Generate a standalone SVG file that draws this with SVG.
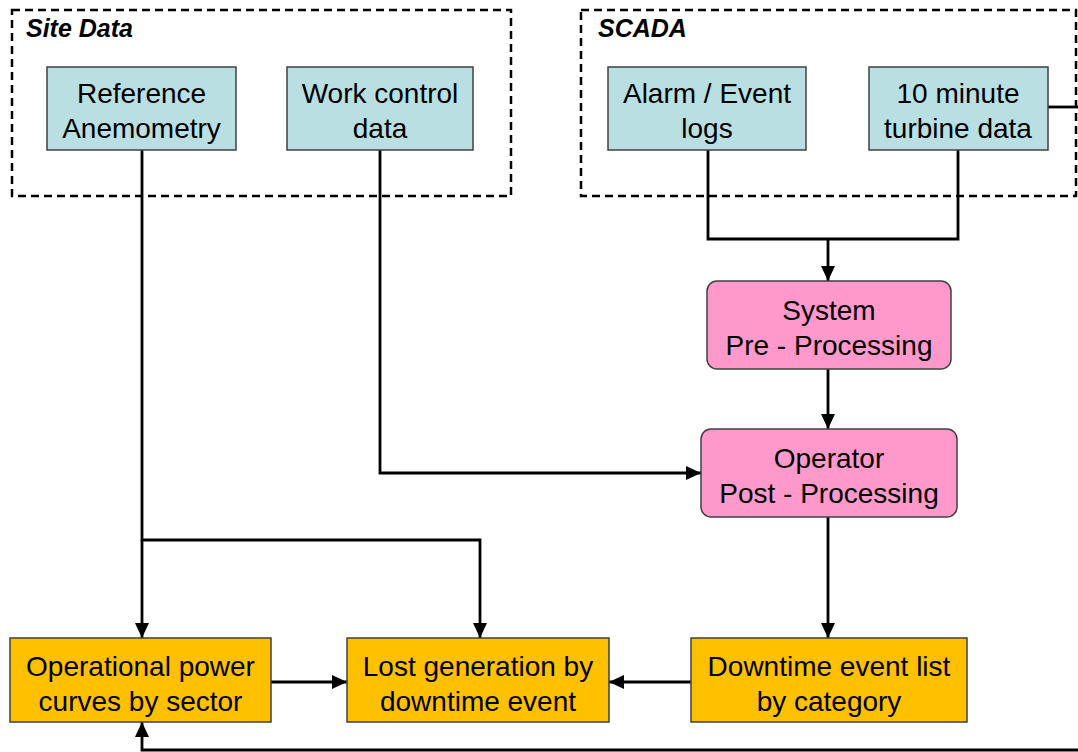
<svg xmlns="http://www.w3.org/2000/svg" width="1078" height="752" viewBox="0 0 1078 752">
<style>
.grp{fill:none;stroke:#000;stroke-width:2.5;stroke-dasharray:8,5}
.ttl{font-family:"Liberation Sans",Arial,sans-serif;font-size:25px;font-weight:bold;font-style:italic;fill:#000}
.src{fill:#B9DFE2;stroke:#404040;stroke-width:1.5}
.proc{fill:#FF99CC;stroke:#404040;stroke-width:1.5}
.out{fill:#FFC000;stroke:#404040;stroke-width:1.5}
.t{font-family:"Liberation Sans",Arial,sans-serif;font-size:28px;fill:#000;text-anchor:middle}
.c{fill:none;stroke:#000;stroke-width:2.8}
</style>
<defs>
<marker id="ah" markerWidth="16" markerHeight="14" refX="15" refY="7" orient="auto" markerUnits="userSpaceOnUse">
<path d="M0,0 L15,7 L0,14 Z" fill="#000"/>
</marker>
</defs>
<rect width="1078" height="752" fill="#fff"/>
<g id="site-data">
<rect class="grp" x="12" y="10" width="499" height="186"/>
<text class="ttl" x="26" y="37">Site Data</text>
</g>
<g id="scada">
<rect class="grp" x="581" y="10" width="495" height="186"/>
<text class="ttl" x="598" y="37">SCADA</text>
</g>
<g id="connectors">
<path class="c" d="M1048,107 H1078"/>
<path class="c" d="M142,150 V540 H480 V638" marker-end="url(#ah)"/>
<path class="c" d="M142,540 V638" marker-end="url(#ah)"/>
<path class="c" d="M380,150 V473 H701" marker-end="url(#ah)"/>
<path class="c" d="M708,150 V239 H958 V150"/>
<path class="c" d="M828,239 V281" marker-end="url(#ah)"/>
<path class="c" d="M828,369 V429" marker-end="url(#ah)"/>
<path class="c" d="M828,517 V638" marker-end="url(#ah)"/>
<path class="c" d="M271,682 H347" marker-end="url(#ah)"/>
<path class="c" d="M691,682 H609" marker-end="url(#ah)"/>
<path class="c" d="M1078,750 H142 V722" marker-end="url(#ah)"/>
</g>
<g id="ref-anemometry">
<rect class="src" x="47" y="67" width="189" height="83"/>
<text class="t" x="141.5" y="103">Reference</text>
<text class="t" x="141.5" y="138">Anemometry</text>
</g>
<g id="work-control">
<rect class="src" x="287" y="67" width="186" height="83"/>
<text class="t" x="380" y="103">Work control</text>
<text class="t" x="380" y="138">data</text>
</g>
<g id="alarm-logs">
<rect class="src" x="608" y="67" width="198" height="83"/>
<text class="t" x="707" y="103">Alarm / Event</text>
<text class="t" x="707" y="138">logs</text>
</g>
<g id="ten-minute">
<rect class="src" x="869" y="67" width="179" height="83"/>
<text class="t" x="958" y="103">10 minute</text>
<text class="t" x="958" y="138">turbine data</text>
</g>
<g id="system-pre">
<rect class="proc" x="707" y="281" width="244" height="88" rx="10"/>
<text class="t" x="829" y="320">System</text>
<text class="t" x="829" y="355">Pre - Processing</text>
</g>
<g id="operator-post">
<rect class="proc" x="701" y="429" width="256" height="88" rx="10"/>
<text class="t" x="829" y="468">Operator</text>
<text class="t" x="829" y="503">Post - Processing</text>
</g>
<g id="power-curves">
<rect class="out" x="10" y="638" width="261" height="84"/>
<text class="t" x="140.5" y="676">Operational power</text>
<text class="t" x="140.5" y="711">curves by sector</text>
</g>
<g id="lost-generation">
<rect class="out" x="347" y="638" width="262" height="84"/>
<text class="t" x="478" y="676">Lost generation by</text>
<text class="t" x="478" y="711">downtime event</text>
</g>
<g id="downtime-list">
<rect class="out" x="691" y="638" width="276" height="84"/>
<text class="t" x="829" y="676">Downtime event list</text>
<text class="t" x="829" y="711">by category</text>
</g>
</svg>
